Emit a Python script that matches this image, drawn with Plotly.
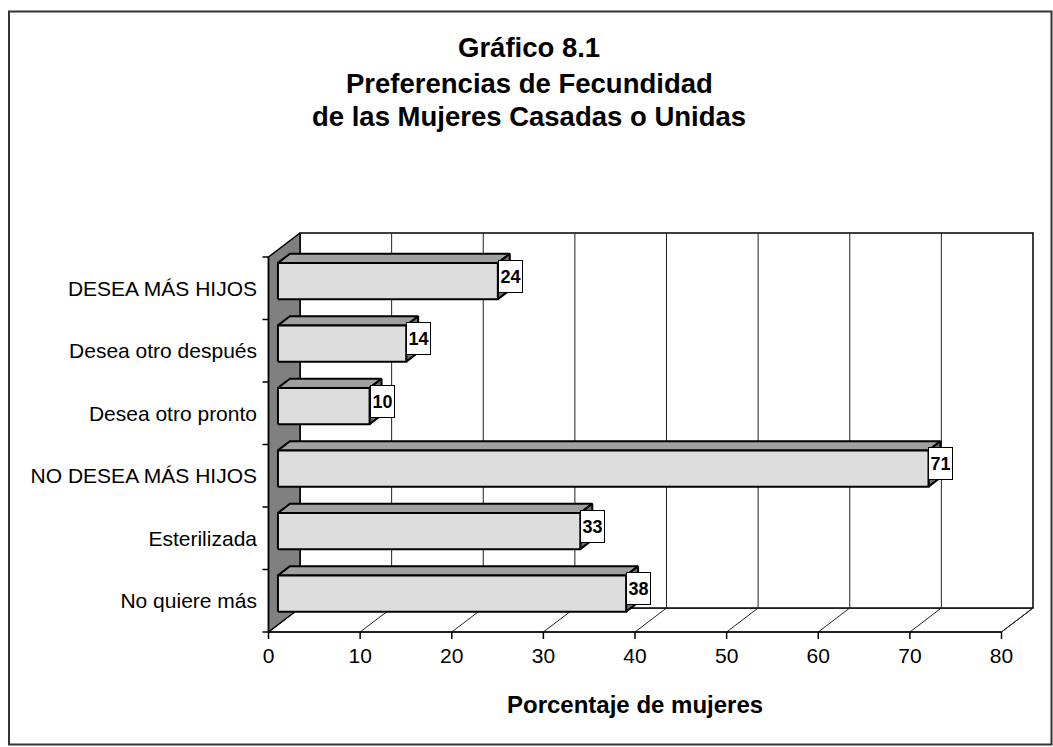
import plotly.graph_objects as go

# ---------------- data ----------------
categories = ["No quiere más", "Esterilizada", "NO DESEA MÁS HIJOS",
              "Desea otro pronto", "Desea otro después", "DESEA MÁS HIJOS"]
values = [38, 33, 71, 10, 14, 24]
x_ticks = [0, 10, 20, 30, 40, 50, 60, 70, 80]
title_lines = ["Gráfico 8.1", "Preferencias de Fecundidad",
               "de las Mujeres Casadas o Unidas"]
x_title = "Porcentaje de mujeres"

# ---------------- geometry ----------------
FIG_W, FIG_H = 1053, 747
L, R, T, B = 261, 17, 228, 106
PX_PER_X = 9.1625
PX_PER_Y = 62.5
X0_PX = 268.5
Y_FRONT_PX = 632
plot_w = FIG_W - L - R
plot_h = FIG_H - T - B
xmin = -(X0_PX - L) / PX_PER_X
xmax = xmin + plot_w / PX_PER_X
ymin = -0.5 - ((FIG_H - B) - Y_FRONT_PX) / PX_PER_Y
ymax = ymin + plot_h / PX_PER_Y

DX = 31.5 / PX_PER_X
DY = 24 / PX_PER_Y
F1, F2 = 0.30, 0.68
HALF = 0.29
n = len(categories)
y_lo, y_hi = -0.5, n - 0.5
x_end = x_ticks[-1]

FONT = "Arial, Liberation Sans, sans-serif"


def pxx(px):
    return (px - L) / plot_w


def pxy(py):
    return (FIG_H - B - py) / plot_h


fig = go.Figure()


def poly(xs, ys, fill, lw=1.5, lc="#000000"):
    fig.add_trace(go.Scatter(
        x=xs + [xs[0]], y=ys + [ys[0]], mode="lines", fill="toself",
        fillcolor=fill, line=dict(color=lc, width=lw), hoverinfo="skip",
        showlegend=False))


def lines(segs, lw=1, lc="#000000"):
    xs, ys = [], []
    for (a, b, c, d) in segs:
        xs += [a, c, None]
        ys += [b, d, None]
    fig.add_trace(go.Scatter(x=xs, y=ys, mode="lines",
                             line=dict(color=lc, width=lw),
                             hoverinfo="skip", showlegend=False))


# floor
poly([0, x_end, x_end + DX, DX], [y_lo, y_lo, y_lo + DY, y_lo + DY],
     "#FFFFFF", lw=1)
# back wall
poly([DX, x_end + DX, x_end + DX, DX],
     [y_lo + DY, y_lo + DY, y_hi + DY, y_hi + DY], "#FFFFFF", lw=1.5)
# gridlines
segs = []
for v in x_ticks[1:-1]:
    segs.append((v + DX, y_lo + DY, v + DX, y_hi + DY))
for v in x_ticks[1:]:
    segs.append((v, y_lo, v + DX, y_lo + DY))
lines(segs, lw=1, lc="#222222")
# left wall
poly([0, DX, DX, 0], [y_lo, y_lo + DY, y_hi + DY, y_hi], "#808080", lw=1.5)

# bars
for i, v in enumerate(values):
    b0, b1 = i - HALF, i + HALF
    # top face
    poly([F1 * DX, v + F1 * DX, v + F2 * DX, F2 * DX],
         [b1 + F1 * DY, b1 + F1 * DY, b1 + F2 * DY, b1 + F2 * DY],
         "#A0A0A0", lw=2)
    # right face
    poly([v + F1 * DX, v + F2 * DX, v + F2 * DX, v + F1 * DX],
         [b0 + F1 * DY, b0 + F2 * DY, b1 + F2 * DY, b1 + F1 * DY],
         "#6E6E6E", lw=2)
    # front face
    poly([F1 * DX, v + F1 * DX, v + F1 * DX, F1 * DX],
         [b0 + F1 * DY, b0 + F1 * DY, b1 + F1 * DY, b1 + F1 * DY],
         "#DDDDDD", lw=2)

# axis lines and ticks
axsegs = [(0, y_lo, x_end, y_lo), (0, y_lo, 0, y_hi)]
for v in x_ticks:
    axsegs.append((v, y_lo, v, y_lo - 7 / PX_PER_Y))
for k in range(n + 1):
    axsegs.append((0, k - 0.5, -6 / PX_PER_X, k - 0.5))
lines(axsegs, lw=1.5, lc="#000000")

# data labels
annotations = []
for i, v in enumerate(values):
    annotations.append(dict(
        x=v + F1 * DX, y=i + (F1 + F2) / 2 * DY, xref="x", yref="y",
        text=f"<b>{v}</b>", showarrow=False, xanchor="left", yanchor="middle",
        font=dict(family=FONT, size=18, color="#000000"),
        bgcolor="#FFFFFF", bordercolor="#000000", borderwidth=1,
        borderpad=1, width=21, height=29))

# title
for j, (line, py) in enumerate(zip(title_lines, [48, 84, 116])):
    annotations.append(dict(
        x=pxx(529), y=pxy(py), xref="paper", yref="paper",
        text=f"<b>{line}</b>", showarrow=False, xanchor="center",
        yanchor="middle", font=dict(family=FONT, size=27.5, color="#000000")))

# axis title
annotations.append(dict(
    x=pxx(635), y=pxy(704), xref="paper", yref="paper",
    text=f"<b>{x_title}</b>", showarrow=False, xanchor="center",
    yanchor="middle", font=dict(family=FONT, size=24, color="#000000")))

fig.update_layout(
    width=FIG_W, height=FIG_H,
    margin=dict(l=L, r=R, t=T, b=B, pad=0),
    paper_bgcolor="#FFFFFF", plot_bgcolor="rgba(0,0,0,0)",
    showlegend=False,
    font=dict(family=FONT, color="#000000"),
    xaxis=dict(range=[xmin, xmax], tickvals=x_ticks,
               ticktext=[str(t) for t in x_ticks], ticks="",
               showgrid=False, zeroline=False, showline=False,
               tickfont=dict(family=FONT, size=21, color="#000000"),
               fixedrange=True),
    yaxis=dict(range=[ymin, ymax], tickvals=list(range(n)),
               ticktext=categories, ticks="", ticklabelstandoff=3,
               showgrid=False, zeroline=False, showline=False,
               tickfont=dict(family=FONT, size=21, color="#000000"),
               fixedrange=True),
    annotations=annotations,
    shapes=[dict(type="rect", xref="paper", yref="paper",
                 x0=pxx(9), y0=pxy(11.5), x1=pxx(1051.5), y1=pxy(744.5),
                 line=dict(color="#333333", width=2), layer="above")],
)

fig.write_html("out.html", config={"displayModeBar": False},
               post_script="document.body.style.margin='0';"
                           "document.body.style.overflow='hidden';")
